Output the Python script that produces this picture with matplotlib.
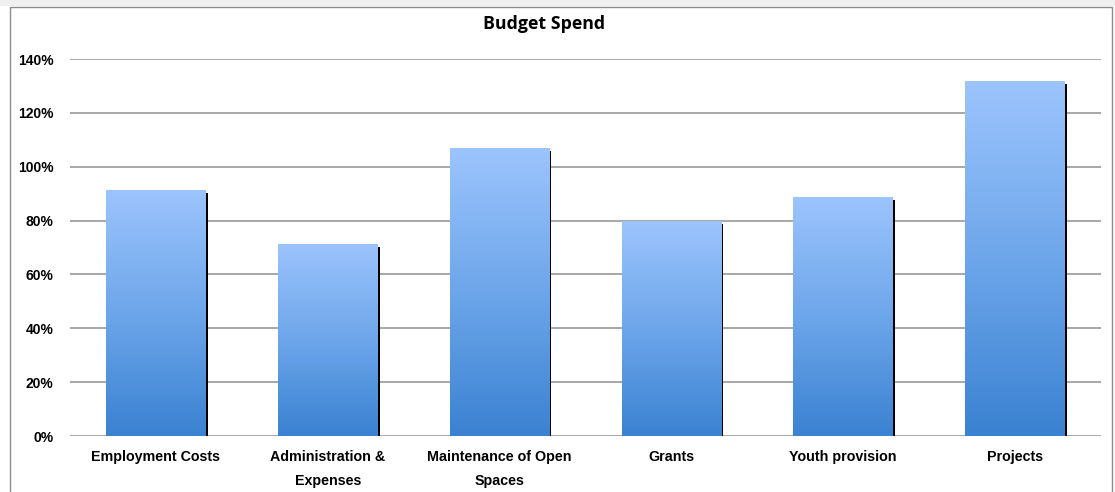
import numpy as np
import matplotlib
matplotlib.use("Agg")
import matplotlib.pyplot as plt
from matplotlib.patches import Rectangle
from matplotlib.colors import LinearSegmentedColormap

# data
categories = ["Employment Costs", "Administration &\nExpenses", "Maintenance of Open\nSpaces",
              "Grants", "Youth provision", "Projects"]
spend_pct = [91.3, 71.3, 106.9, 79.8, 88.7, 131.8]
y_ticks = [0, 20, 40, 60, 80, 100, 120, 140]

W, H = 1115, 492
fig = plt.figure(figsize=(W / 100, H / 100), dpi=100)

# light grey strip on top + chart border
fig.patches.append(Rectangle((0, 1 - 6 / H), 1, 6 / H, transform=fig.transFigure,
                             facecolor="#f0f0f0", edgecolor="none", zorder=0))
fig.patches.append(Rectangle((10 / W, -0.01), (1112 - 10) / W, (H - 7) / H + 0.01,
                             transform=fig.transFigure, facecolor="none",
                             edgecolor="#8c8c8c", linewidth=1.0, zorder=1))

ax = fig.add_axes([70 / W, (H - 436) / H, (1101 - 70) / W, (436 - 59) / H])
ax.set_xlim(-0.5, len(categories) - 0.5)
ax.set_ylim(0, 140)

for s in ax.spines.values():
    s.set_visible(False)
ax.set_yticks(y_ticks)
ax.set_yticklabels([f"{t}%" for t in y_ticks], fontweight="bold", fontsize=10,
                   family="Liberation Sans")
ax.tick_params(axis="y", length=0, pad=12)
ax.tick_params(axis="x", length=0, pad=10)
ax.yaxis.grid(True, color="#a0a0a0", linewidth=1.3)
ax.set_axisbelow(True)
ax.set_xticks(range(len(categories)))
ax.set_xticklabels(categories, fontweight="bold", fontsize=10.3, family="Liberation Sans",
                   linespacing=1.9, va="top")

cmap = LinearSegmentedColormap.from_list("bluegrad", ["#3a82d2", "#6da6ea", "#9cc4fd"])
grad = np.linspace(0, 1, 256).reshape(-1, 1)
bw = 0.58
for i, v in enumerate(spend_pct):
    # black shadow to the right
    ax.add_patch(Rectangle((i - bw / 2 + 0.012, 0), bw, v - 1.1, facecolor="black",
                           edgecolor="none", zorder=2))
    bar = Rectangle((i - bw / 2, 0), bw, v, facecolor="none", edgecolor="none", zorder=3)
    ax.add_patch(bar)
    im = ax.imshow(grad, extent=(i - bw / 2, i + bw / 2, 0, v), origin="lower",
                   cmap=cmap, aspect="auto", zorder=3)
    im.set_clip_path(bar)

ax.set_xlim(-0.5, len(categories) - 0.5)
ax.set_ylim(0, 140)

fig.text(544 / W, 1 - 24 / H, "Budget Spend", ha="center", va="center",
         fontsize=12.8, fontweight="bold", family="Open Sans")

fig.savefig("out.png", dpi=100)
